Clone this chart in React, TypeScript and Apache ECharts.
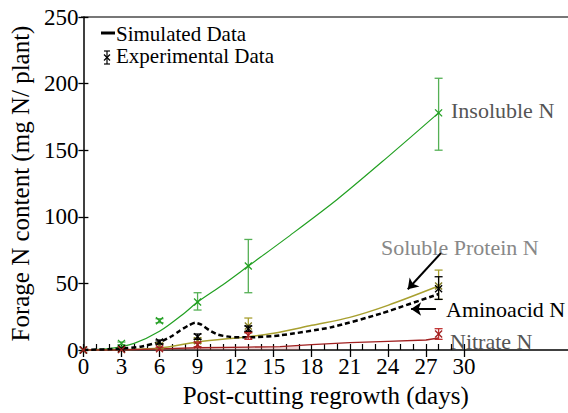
import React, { useEffect, useRef } from 'react';
import * as echarts from 'echarts';

const FONT = 'Liberation Serif, Times New Roman, serif';

// Axis ticks
const xLabelValues = [0, 3, 6, 9, 12, 15, 18, 21, 24, 27, 30];
const xMinorValues = [0, 1, 2, 3, 4, 5, 6, 7, 8, 9, 10, 11, 12, 13, 14, 15, 16, 17, 18, 19, 20, 21, 22, 23, 24, 25, 26, 27, 28, 29, 30];
const xMax = 38.2;
const yMax = 250;
const yInterval = 50;

// Simulated data
const insolubleSimDays = [0, 2, 4, 6, 8, 9, 11, 13, 16, 20, 24, 28];
const insolubleSimValues = [0, 1, 5, 14, 28, 36, 49, 63, 84, 113, 145, 178];

const solubleSimDays = [0, 3, 6, 9, 13, 15, 18, 21, 24, 28];
const solubleSimValues = [0, 0.3, 1.5, 6, 10, 12.5, 18.5, 24.5, 33.5, 48];

const aminoSimDays = [0, 3, 4.5, 6, 7, 7.6, 8.3, 8.8, 9.3, 9.9, 10.6, 11.6, 13, 15.5, 19.5, 23.5, 28];
const aminoSimValues = [0, 1, 2.5, 6, 10.5, 14.5, 18.5, 20.5, 19, 15, 11.5, 9.8, 9.5, 11, 17, 27.5, 42];

const nitrateSimDays = [0, 3, 6, 9, 13, 15.5, 18, 21, 24, 27, 28];
const nitrateSimValues = [0, 0, 0.8, 1.7, 2.2, 2.5, 4, 5.5, 6.5, 7.5, 9];

const nitrateBandDays = [5, 9, 13, 15.5, 17];
const nitrateBandValues = [0.6, 1.7, 2.2, 2.5, 3.4];

// Experimental data
const expDays = [0, 3, 6, 9, 13, 28];
const insolubleExp = [0, 5, 22, 36, 63, 178];
const insolubleLow = [0, 4, 20.5, 30, 43, 150];
const insolubleHigh = [0, 6, 23.5, 43, 83, 204];

const solubleExp = [0, 0.5, 3, 7, 18, 48];
const solubleLow = [0, 0, 1, 5, 13, 38];
const solubleHigh = [0, 1, 5, 9, 24, 60];

const aminoExp = [0, 1, 6, 10, 16, 46];
const aminoLow = [0, 0.5, 4.5, 8, 14, 38];
const aminoHigh = [0, 1.5, 7.5, 12, 18, 55];

const nitrateExp = [0, 0.3, 1, 4, 11, 12];
const nitrateLow = [0, 0, 0, 2.5, 8, 8];
const nitrateHigh = [0, 1, 2, 6, 13, 16];

// Arrows (data coordinates) [fromDay, fromVal, toDay, toVal]
const arrowSoluble = [28.18, 72.7, 25.57, 45.6];
const arrowAmino = [27.79, 30.8, 25.83, 30.8];

const GREEN = '#22a022';
const GREEN_BAR = '#55b055';
const OLIVE = '#a8a030';
const RED = '#a02020';
const BLACK = '#000000';

const zip = (a: number[], b: number[]) => a.map((v, i) => [v, b[i]]);
const zip4 = (a: number[], b: number[], c: number[], d: number[]) => a.map((v, i) => [v, b[i], c[i], d[i]]);

const errRender = (barColor: string, markColor: string) => (params: any, api: any) => {
  const x = api.value(0);
  const y = api.value(1);
  const lo = api.value(2);
  const hi = api.value(3);
  const p = api.coord([x, y]);
  const pl = api.coord([x, lo]);
  const ph = api.coord([x, hi]);
  const cap = 4;
  const m = 3.5;
  const children: any[] = [];
  if (pl[1] - ph[1] > 1.5) {
    children.push(
      { type: 'line', shape: { x1: p[0], y1: pl[1], x2: p[0], y2: ph[1] }, style: { stroke: barColor, lineWidth: 1.3 } },
      { type: 'line', shape: { x1: p[0] - cap, y1: pl[1], x2: p[0] + cap, y2: pl[1] }, style: { stroke: barColor, lineWidth: 1.3 } },
      { type: 'line', shape: { x1: p[0] - cap, y1: ph[1], x2: p[0] + cap, y2: ph[1] }, style: { stroke: barColor, lineWidth: 1.3 } }
    );
  }
  children.push(
    { type: 'line', shape: { x1: p[0] - m, y1: p[1] - m, x2: p[0] + m, y2: p[1] + m }, style: { stroke: markColor, lineWidth: 1.3 } },
    { type: 'line', shape: { x1: p[0] - m, y1: p[1] + m, x2: p[0] + m, y2: p[1] - m }, style: { stroke: markColor, lineWidth: 1.3 } }
  );
  return { type: 'group', children };
};

const textEl = (text: string, x: number, y: number, color: string, size: number) => ({
  type: 'text',
  x,
  y,
  style: {
    text,
    fill: color,
    fontSize: size,
    fontFamily: FONT,
    lineHeight: size,
    align: 'left',
    textAlign: 'left',
    verticalAlign: 'middle',
    textVerticalAlign: 'middle',
  },
});

const lineEl = (x1: number, y1: number, x2: number, y2: number, color: string, w: number) => ({
  type: 'line',
  shape: { x1, y1, x2, y2 },
  style: { stroke: color, lineWidth: w },
});

export default function App() {
  const ref = useRef<HTMLDivElement>(null);
  useEffect(() => {
    if (!ref.current) return;
    const chart = echarts.init(ref.current, null, { renderer: 'svg' });
    const axisLabelStyle = { fontFamily: FONT, fontSize: 23, color: '#000' };
    const option: any = {
      animation: false,
      backgroundColor: '#fff',
      textStyle: { fontFamily: FONT },
      grid: { left: 81, right: 0, top: 17, bottom: 58, containLabel: false },
      xAxis: [
        {
          type: 'value',
          position: 'bottom',
          min: 0,
          max: xMax,
          name: 'Post-cutting regrowth (days)',
          nameLocation: 'middle',
          nameGap: 33,
          nameTextStyle: { fontFamily: FONT, fontSize: 25, color: '#000' },
          axisLine: { show: true, lineStyle: { color: '#000', width: 1.5 } },
          axisTick: { show: true, inside: false, length: 7, customValues: xLabelValues, lineStyle: { color: '#000', width: 1.3 } },
          axisLabel: { show: true, margin: 5, customValues: xLabelValues, ...axisLabelStyle },
          splitLine: { show: false },
        },
        {
          type: 'value',
          position: 'bottom',
          min: 0,
          max: xMax,
          axisLine: { show: false },
          axisTick: { show: true, inside: true, length: 6, customValues: xMinorValues, lineStyle: { color: '#000', width: 1.2 } },
          axisLabel: { show: false },
          splitLine: { show: false },
        },
      ],
      yAxis: [
        {
          type: 'value',
          position: 'left',
          min: 0,
          max: yMax,
          interval: yInterval,
          name: 'Forage N content (mg N/ plant)',
          nameLocation: 'middle',
          nameGap: 47,
          nameTextStyle: { fontFamily: FONT, fontSize: 25, color: '#000' },
          axisLine: { show: true, lineStyle: { color: '#000', width: 1.5 } },
          axisTick: { show: true, inside: false, length: 5, lineStyle: { color: '#000', width: 1.3 } },
          axisLabel: { show: true, margin: 5, ...axisLabelStyle },
          splitLine: { show: false },
        },
        {
          type: 'value',
          position: 'left',
          min: 0,
          max: yMax,
          interval: yInterval,
          axisLine: { show: false },
          axisTick: { show: true, inside: true, length: 5, lineStyle: { color: '#000', width: 1.3 } },
          axisLabel: { show: false },
          splitLine: { show: false },
        },
      ],
      series: [
        {
          name: 'Nitrate N band',
          type: 'line',
          data: zip(nitrateBandDays, nitrateBandValues),
          symbol: 'none',
          lineStyle: { width: 0 },
          areaStyle: { color: 'rgba(200,120,120,0.45)' },
          silent: true,
          z: 1,
        },
        {
          name: 'Insoluble N',
          type: 'line',
          data: zip(insolubleSimDays, insolubleSimValues),
          symbol: 'none',
          smooth: 0.3,
          lineStyle: { color: GREEN, width: 1.2 },
          z: 3,
        },
        {
          name: 'Soluble Protein N',
          type: 'line',
          data: zip(solubleSimDays, solubleSimValues),
          symbol: 'none',
          smooth: 0.3,
          lineStyle: { color: OLIVE, width: 1.5 },
          z: 3,
        },
        {
          name: 'Aminoacid N',
          type: 'line',
          data: zip(aminoSimDays, aminoSimValues),
          symbol: 'none',
          smooth: 0.2,
          lineStyle: { color: BLACK, width: 2.5, type: [5, 3] },
          z: 4,
          markLine: {
            silent: true,
            symbol: ['none', 'arrow'],
            symbolSize: 10,
            label: { show: false },
            lineStyle: { color: '#000', width: 2, type: 'solid' },
            data: [
              [{ coord: [arrowSoluble[0], arrowSoluble[1]] }, { coord: [arrowSoluble[2], arrowSoluble[3]] }],
              [{ coord: [arrowAmino[0], arrowAmino[1]] }, { coord: [arrowAmino[2], arrowAmino[3]] }],
            ],
          },
        },
        {
          name: 'Nitrate N',
          type: 'line',
          data: zip(nitrateSimDays, nitrateSimValues),
          symbol: 'none',
          lineStyle: { color: RED, width: 1.3 },
          z: 3,
        },
        {
          name: 'Insoluble N exp',
          type: 'custom',
          renderItem: errRender(GREEN_BAR, GREEN),
          data: zip4(expDays, insolubleExp, insolubleLow, insolubleHigh),
          encode: { x: 0, y: 1 },
          clip: false,
          z: 5,
        },
        {
          name: 'Soluble Protein N exp',
          type: 'custom',
          renderItem: errRender(OLIVE, '#807a20'),
          data: zip4(expDays, solubleExp, solubleLow, solubleHigh),
          encode: { x: 0, y: 1 },
          clip: false,
          z: 5,
        },
        {
          name: 'Aminoacid N exp',
          type: 'custom',
          renderItem: errRender(BLACK, BLACK),
          data: zip4(expDays, aminoExp, aminoLow, aminoHigh),
          encode: { x: 0, y: 1 },
          clip: false,
          z: 5,
        },
        {
          name: 'Nitrate N exp',
          type: 'custom',
          renderItem: errRender('#c03030', RED),
          data: zip4(expDays, nitrateExp, nitrateLow, nitrateHigh),
          encode: { x: 0, y: 1 },
          clip: false,
          z: 5,
        },
      ],
      graphic: [
        lineEl(81, 17, 568, 17, '#777', 2),
        // legend
        lineEl(101, 33, 115, 33, '#000', 3),
        textEl('Simulated Data', 116, 34, '#000', 21),
        lineEl(107, 51, 107, 64, '#000', 1.2),
        lineEl(104, 51, 110, 51, '#000', 1.2),
        lineEl(104, 64, 110, 64, '#000', 1.2),
        lineEl(104, 54.5, 110, 60.5, '#000', 1.2),
        lineEl(104, 60.5, 110, 54.5, '#000', 1.2),
        textEl('Experimental Data', 116, 56, '#000', 21),
        // annotations
        textEl('Insoluble N', 451, 110, '#555', 22),
        textEl('Soluble Protein N', 381, 247, '#888', 22),
        textEl('Aminoacid N', 446, 309, '#000', 22),
        textEl('Nitrate N', 450, 341, '#555', 22),
      ],
    };
    chart.setOption(option);
    return () => chart.dispose();
  }, []);
  return <div ref={ref} style={{ position: 'fixed', left: 0, top: 0, width: 568, height: 413 }} />;
}
